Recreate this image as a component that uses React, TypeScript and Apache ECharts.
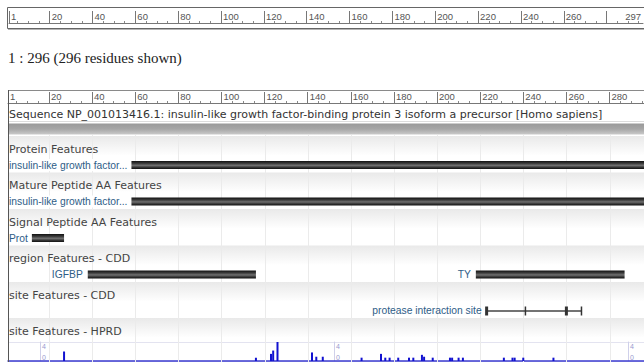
import React, { useEffect, useRef } from "react";
import * as echarts from "echarts";

// ---------- content ----------
const SUMMARY = "1 : 296 (296 residues shown)";
const SEQUENCE_TITLE =
  "Sequence NP_001013416.1: insulin-like growth factor-binding protein 3 isoform a precursor [Homo sapiens]";
const SEQUENCE_SPAN = [1, 296];
const TOP_RULER_END = 297;
const RULER_MARKS = [1, 20, 40, 60, 80, 100, 120, 140, 160, 180, 200, 220, 240, 260, 280];
const TOP_RULER_LABELS = [1, 20, 40, 60, 80, 100, 120, 140, 160, 180, 200, 220, 240, 260];
const GUIDE_MARKS = [20, 40, 60, 80, 100, 120, 140, 160, 180, 200, 220, 240, 260, 280];

const TRACK_TITLES = [
  "Protein Features",
  "Mature Peptide AA Features",
  "Signal Peptide AA Features",
  "region Features - CDD",
  "site Features - CDD",
  "site Features - HPRD",
];

const PROTEIN_FEATURES = [{ label: "insulin-like growth factor...", start: 1, end: 296 }];
const MATURE_FEATURES = [{ label: "insulin-like growth factor...", start: 28, end: 296 }];
const SIGNAL_FEATURES = [{ label: "Prot", start: 1, end: 27 }];
const REGION_FEATURES = [
  { label: "IGFBP", start: 38, end: 116 },
  { label: "TY", start: 218, end: 287 },
];
const SITE_LABEL = "protease interaction site";
const SITE_RESIDUES = [223, 241, 260, 267];

const HPRD_RESIDUES = [27, 116, 123, 124, 126, 142, 144, 147, 165, 174, 176, 178, 182, 187, 189, 193, 194, 198, 206, 207, 210, 212, 231, 235, 236, 240, 254];
const HPRD_COUNTS = [2, 0.7, 1.5, 2.2, 4, 1.8, 0.9, 0.9, 0.7, 1.5, 0.7, 0.7, 0.7, 0.7, 0.7, 1.3, 0.9, 0.7, 0.7, 0.7, 0.7, 0.7, 0.7, 0.7, 0.7, 0.7, 0.7];
const HPRD_AXIS_VALUES = [0, 4];
const HPRD_MAX = 4;

// ---------- layout / style ----------
const W = 644;
const H = 362;
const SANS = "'Liberation Sans', Arial, sans-serif";
const DEJAVU = "'DejaVu Sans', Verdana, sans-serif";
const TRACK_HEADER_Y = [149, 185.5, 222, 258.5, 295, 331];
const FEATURE_OFFSET = 16;
const BAR_H = 8;
const LABEL_GAP = 5;
const LABEL_COLOR = "#2e5d87";
const LABEL_FONT = 10.3;

const MINOR_TICKS: number[] = [];
for (let v = 5; v < TOP_RULER_END; v += 5) if (v % 20 !== 0) MINOR_TICKS.push(v);

const featureTracks = [PROTEIN_FEATURES, MATURE_FEATURES, SIGNAL_FEATURES, REGION_FEATURES];
const allFeatures = featureTracks.flatMap((items, row) =>
  items.map((f) => ({ ...f, row }))
);

let measureCtx: CanvasRenderingContext2D | null = null;
function textWidth(t: string, size: number) {
  if (!measureCtx) measureCtx = document.createElement("canvas").getContext("2d");
  if (!measureCtx) return t.length * size * 0.5;
  measureCtx.font = `${size}px ${SANS}`;
  return measureCtx.measureText(t).width;
}

const barFill = () =>
  new echarts.graphic.LinearGradient(0, 0, 0, 1, [
    { offset: 0, color: "#111" },
    { offset: 0.3, color: "#3a3a3a" },
    { offset: 0.55, color: "#707070" },
    { offset: 0.8, color: "#333" },
    { offset: 1, color: "#111" },
  ]);

function rulerAxis(gridIndex: number, max: number, labels: number[], tickLen: number) {
  return {
    type: "value",
    gridIndex,
    min: 1,
    max,
    position: "bottom",
    axisLine: { show: true, lineStyle: { color: "#777", width: 1 } },
    axisTick: { show: true, inside: true, length: tickLen, customValues: RULER_MARKS, lineStyle: { color: "#777" } },
    axisLabel: {
      show: true,
      inside: true,
      customValues: labels,
      align: "left",
      margin: 2,
      padding: [0, 0, 0, 2],
      fontSize: 9.5,
      fontFamily: SANS,
      color: "#555",
      formatter: (v: number) => String(v),
    },
    splitLine: { show: false },
  };
}
function minorAxis(gridIndex: number, max: number) {
  return {
    type: "value",
    gridIndex,
    min: 1,
    max,
    position: "bottom",
    axisLine: { show: false },
    axisTick: { show: true, inside: true, length: 2, customValues: MINOR_TICKS, lineStyle: { color: "#888" } },
    axisLabel: { show: false },
    splitLine: { show: false },
  };
}
function hprdYAxis(offsetX: number, withSplit: boolean) {
  return {
    type: "value",
    gridIndex: 3,
    min: 0,
    max: HPRD_MAX,
    position: "left",
    offset: -offsetX,
    axisLine: { show: true, lineStyle: { color: "#cfd0ea" } },
    axisTick: { show: false, customValues: HPRD_AXIS_VALUES },
    axisLabel: {
      show: true,
      inside: true,
      customValues: HPRD_AXIS_VALUES,
      margin: 2,
      fontSize: 7,
      fontFamily: SANS,
      color: "#9a9ad0",
      formatter: (v: number) => (v === HPRD_MAX ? `{t|${v}}` : `{b|${v}}`),
      rich: { t: { padding: [9, 0, 0, 0] }, b: { padding: [0, 0, 8, 0] } },
    },
    splitLine: { show: withSplit, lineStyle: { color: "#e3e3f0" } },
  };
}

export default function App() {
  const ref = useRef<HTMLDivElement>(null);
  useEffect(() => {
    if (!ref.current) return;
    const chart = echarts.init(ref.current, undefined, { renderer: "svg" });
    const option: any = {
      animation: false,
      backgroundColor: "#fff",
      grid: [
        { left: 9, top: 11, width: 636, height: 12 },
        { left: 8, top: 0, width: 637, height: H },
        { left: 8, top: 92, width: 637, height: 11 },
        { left: 8, top: 342, width: 637, height: 19 },
      ],
      xAxis: [
        rulerAxis(0, TOP_RULER_END, TOP_RULER_LABELS, 12),
        minorAxis(0, TOP_RULER_END),
        {
          type: "value",
          gridIndex: 0,
          min: 1,
          max: TOP_RULER_END,
          position: "bottom",
          axisLine: { show: false },
          axisTick: { show: false },
          axisLabel: {
            show: true,
            inside: true,
            customValues: [TOP_RULER_END],
            align: "right",
            margin: 2,
            padding: [0, 2, 0, 0],
            fontSize: 9.5,
            fontFamily: SANS,
            color: "#555",
          },
          splitLine: { show: false },
        },
        { type: "value", gridIndex: 1, min: SEQUENCE_SPAN[0], max: SEQUENCE_SPAN[1], show: false },
        rulerAxis(2, SEQUENCE_SPAN[1], RULER_MARKS, 11),
        minorAxis(2, SEQUENCE_SPAN[1]),
        {
          type: "value",
          gridIndex: 3,
          min: SEQUENCE_SPAN[0],
          max: SEQUENCE_SPAN[1],
          position: "bottom",
          axisLine: { show: true, lineStyle: { color: "#3b3bd0", width: 1.5 } },
          axisTick: { show: false },
          axisLabel: { show: false },
          splitLine: { show: false },
        },
      ],
      yAxis: [
        { type: "value", gridIndex: 0, min: 0, max: 1, show: false },
        { type: "value", gridIndex: 1, min: 0, max: H, inverse: true, show: false },
        { type: "value", gridIndex: 2, min: 0, max: 1, show: false },
        hprdYAxis(32, true),
        hprdYAxis(326, false),
        hprdYAxis(620, false),
      ],
      series: [
        // sequence bar
        {
          type: "custom",
          xAxisIndex: 3,
          yAxisIndex: 1,
          z: 1,
          data: [[SEQUENCE_SPAN[0], SEQUENCE_SPAN[1], 129]],
          encode: { x: [0, 1], y: 2 },
          renderItem: (params: any, api: any) => {
            const a = api.coord([api.value(0), api.value(2)]);
            const b = api.coord([api.value(1), api.value(2)]);
            return {
              type: "rect",
              shape: { x: a[0] + 1, y: a[1] - 5.5, width: b[0] - a[0] + 5, height: 11 },
              style: {
                fill: new echarts.graphic.LinearGradient(0, 0, 0, 1, [
                  { offset: 0, color: "#999" },
                  { offset: 0.5, color: "#a6a6a6" },
                  { offset: 1, color: "#cacaca" },
                ]),
              },
            };
          },
        },
        // header bands
        {
          type: "custom",
          xAxisIndex: 3,
          yAxisIndex: 1,
          z: 1,
          data: TRACK_TITLES.map((_, i) => [SEQUENCE_SPAN[0], SEQUENCE_SPAN[1], TRACK_HEADER_Y[i]]),
          encode: { x: [0, 1], y: 2 },
          renderItem: (params: any, api: any) => {
            const a = api.coord([api.value(0), api.value(2)]);
            const b = api.coord([api.value(1), api.value(2)]);
            return {
              type: "rect",
              shape: { x: a[0] + 1, y: a[1] - 13, width: b[0] - a[0] + 5, height: 19 },
              style: {
                fill: new echarts.graphic.LinearGradient(0, 0, 0, 1, [
                  { offset: 0, color: "#e9e9e9" },
                  { offset: 1, color: "#fefefe" },
                ]),
              },
            };
          },
        },
        // vertical guides
        {
          type: "custom",
          xAxisIndex: 3,
          yAxisIndex: 1,
          z: 2,
          data: GUIDE_MARKS.map((m) => [m, 135, H]),
          encode: { x: 0, y: [1, 2] },
          renderItem: (params: any, api: any) => {
            const a = api.coord([api.value(0), api.value(1)]);
            const b = api.coord([api.value(0), api.value(2)]);
            const x = Math.round(a[0]) + 0.5;
            return {
              type: "line",
              shape: { x1: x, y1: a[1], x2: x, y2: b[1] },
              style: { stroke: "#ebebeb", lineWidth: 1 },
            };
          },
        },
        // track titles
        {
          type: "custom",
          xAxisIndex: 3,
          yAxisIndex: 1,
          z: 3,
          data: TRACK_TITLES.map((_, i) => [SEQUENCE_SPAN[0], TRACK_HEADER_Y[i]]),
          encode: { x: 0, y: 1 },
          renderItem: (params: any, api: any) => {
            const a = api.coord([api.value(0), api.value(1)]);
            return {
              type: "text",
              style: {
                x: a[0] + 1,
                y: a[1],
                text: TRACK_TITLES[params.dataIndex],
                fill: "#444",
                fontSize: 11,
                fontFamily: DEJAVU,
                verticalAlign: "middle",
              },
            };
          },
        },
        // feature bars
        {
          type: "custom",
          xAxisIndex: 3,
          yAxisIndex: 1,
          z: 4,
          data: allFeatures.map((f) => [f.start, f.end, TRACK_HEADER_Y[f.row] + FEATURE_OFFSET]),
          encode: { x: [0, 1], y: 2 },
          renderItem: (params: any, api: any) => {
            const f = allFeatures[params.dataIndex];
            const a = api.coord([api.value(0), api.value(2)]);
            const b = api.coord([api.value(1), api.value(2)]);
            const left = api.coord([SEQUENCE_SPAN[0], api.value(2)])[0];
            const tw = textWidth(f.label, LABEL_FONT);
            const overlay = a[0] - LABEL_GAP - tw < left + 1;
            const textStyle: any = {
              y: a[1],
              text: f.label,
              fill: LABEL_COLOR,
              fontSize: LABEL_FONT,
              fontFamily: SANS,
              verticalAlign: "middle",
            };
            if (overlay) {
              Object.assign(textStyle, {
                x: left + 1,
                align: "left",
                backgroundColor: "#fff",
                padding: [1, 4, 1, 0],
              });
            } else {
              Object.assign(textStyle, { x: a[0] - LABEL_GAP, align: "right" });
            }
            return {
              type: "group",
              children: [
                {
                  type: "rect",
                  shape: { x: a[0], y: a[1] - BAR_H / 2, width: b[0] - a[0], height: BAR_H },
                  style: { fill: barFill() },
                },
                { type: "text", style: textStyle },
              ],
            };
          },
        },
        // site features (CDD)
        {
          type: "custom",
          xAxisIndex: 3,
          yAxisIndex: 1,
          z: 4,
          data: [[SITE_RESIDUES[0], SITE_RESIDUES[SITE_RESIDUES.length - 1], TRACK_HEADER_Y[4] + FEATURE_OFFSET]],
          encode: { x: [0, 1], y: 2 },
          renderItem: (params: any, api: any) => {
            const y = api.value(2);
            const a = api.coord([api.value(0), y]);
            const b = api.coord([api.value(1), y]);
            const children: any[] = [
              {
                type: "line",
                shape: { x1: a[0], y1: a[1], x2: b[0], y2: b[1] },
                style: { stroke: "#444", lineWidth: 1.5 },
              },
            ];
            SITE_RESIDUES.forEach((r, i) => {
              const p = api.coord([r, y]);
              const wide = i === 0 || i === 2;
              children.push({
                type: "rect",
                shape: { x: p[0] - (wide ? 1.5 : 0.75), y: p[1] - 4.5, width: wide ? 3 : 1.5, height: 9 },
                style: { fill: "#333" },
              });
            });
            children.push({
              type: "text",
              style: {
                x: a[0] - LABEL_GAP,
                y: a[1] - 1,
                text: SITE_LABEL,
                align: "right",
                verticalAlign: "middle",
                fill: LABEL_COLOR,
                fontSize: LABEL_FONT,
                fontFamily: SANS,
              },
            });
            return { type: "group", children };
          },
        },
        // HPRD histogram
        {
          type: "bar",
          xAxisIndex: 6,
          yAxisIndex: 3,
          data: HPRD_RESIDUES.map((r, i) => [r, HPRD_COUNTS[i]]),
          barWidth: 2,
          clip: false,
          itemStyle: { color: "#1212d0" },
        },
      ],
      graphic: [
        {
          type: "rect",
          shape: { x: 7.5, y: 7.5, width: 645, height: 21 },
          style: { fill: "none", stroke: "#666", lineWidth: 1 },
          z: 10,
        },
        {
          type: "line",
          shape: { x1: 8, y1: 29.5, x2: 644, y2: 29.5 },
          style: { stroke: "#b5b5b5", lineWidth: 1 },
        },
        {
          type: "text",
          x: 8,
          y: 58,
          style: {
            text: SUMMARY,
            fill: "#222",
            fontSize: 15,
            fontFamily: "'Liberation Serif', 'Times New Roman', serif",
            verticalAlign: "middle",
          },
        },
        {
          type: "line",
          shape: { x1: 8, y1: 90.5, x2: 644, y2: 90.5 },
          style: { stroke: "#8a8a8a", lineWidth: 1 },
          z: 10,
        },
        {
          type: "line",
          shape: { x1: 8.5, y1: 90, x2: 8.5, y2: H },
          style: { stroke: "#555", lineWidth: 1 },
          z: 10,
        },
        {
          type: "line",
          shape: { x1: 9, y1: 121.5, x2: 644, y2: 121.5 },
          style: { stroke: "#dcdcdc", lineWidth: 1 },
        },
        {
          type: "text",
          x: 9,
          y: 114,
          style: {
            text: SEQUENCE_TITLE,
            fill: "#333",
            fontSize: 11,
            fontFamily: DEJAVU,
            verticalAlign: "middle",
          },
        },
      ],
    };
    chart.setOption(option);
    return () => chart.dispose();
  }, []);
  return (
    <div
      ref={ref}
      style={{ position: "fixed", left: 0, top: 0, width: W, height: H, background: "#fff" }}
    />
  );
}
